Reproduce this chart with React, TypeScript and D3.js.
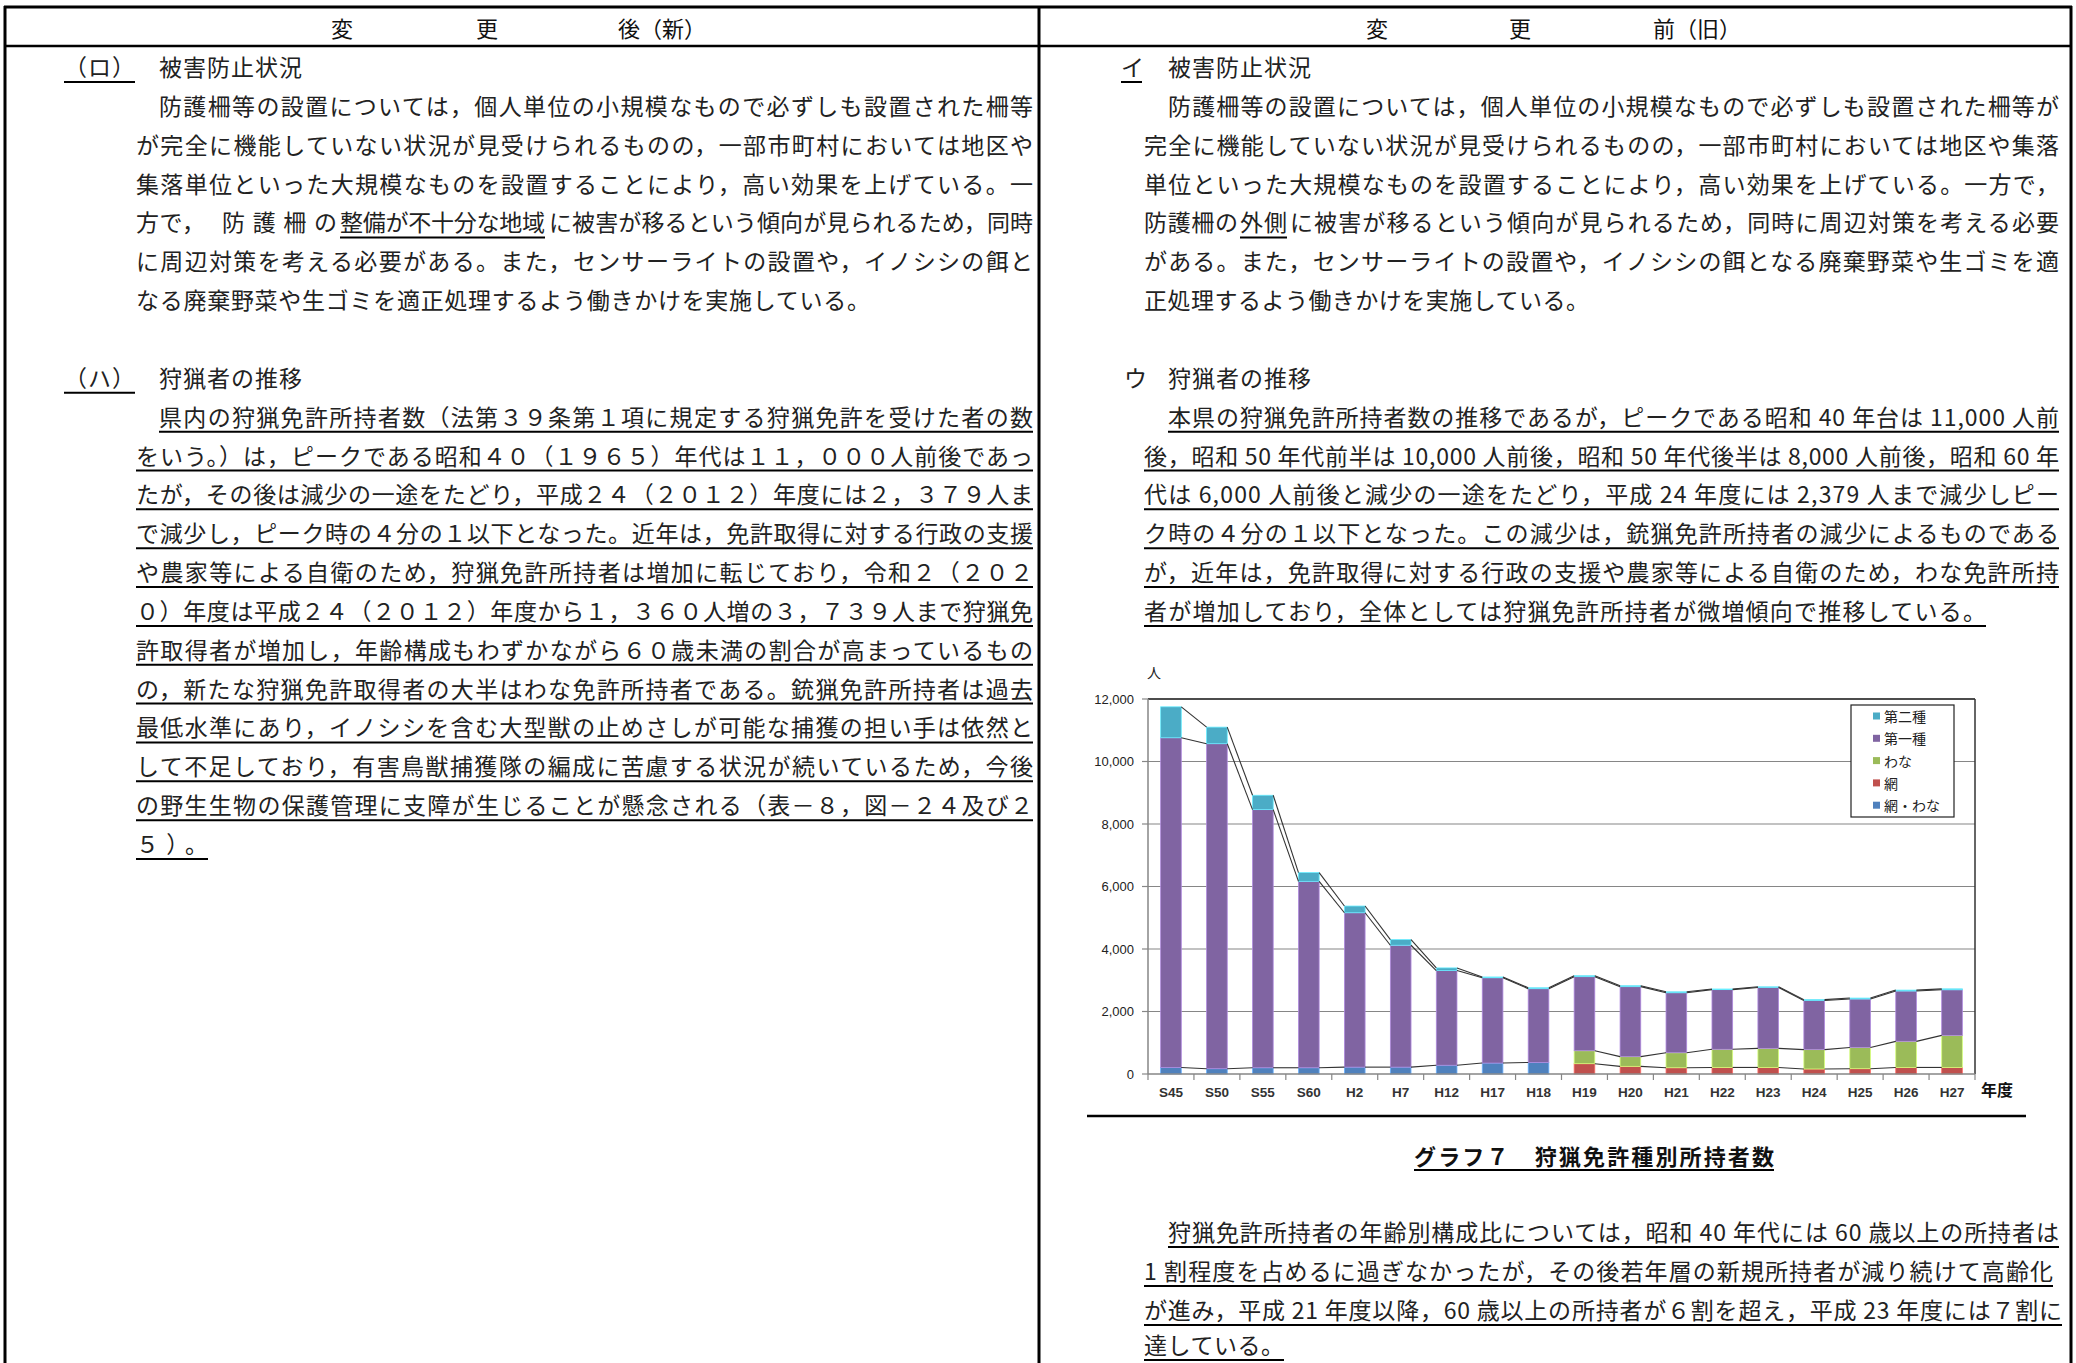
import React from 'react';
import * as d3 from 'd3';

// ---- chart data ----
const categories = ['S45', 'S50', 'S55', 'S60', 'H2', 'H7', 'H12', 'H17', 'H18', 'H19', 'H20', 'H21', 'H22', 'H23', 'H24', 'H25', 'H26', 'H27'];
const amiWana: (number | null)[] = [210, 170, 200, 200, 220, 220, 280, 350, 370, null, null, null, null, null, null, null, null, null];
const ami: (number | null)[] = [null, null, null, null, null, null, null, null, null, 330, 245, 200, 210, 210, 160, 170, 210, 210];
const wana: (number | null)[] = [null, null, null, null, null, null, null, null, null, 415, 310, 480, 580, 610, 620, 680, 835, 1025];
const daiichi: (number | null)[] = [10550, 10400, 8260, 5965, 4940, 3900, 3030, 2730, 2360, 2370, 2240, 1920, 1910, 1950, 1570, 1550, 1610, 1460];
const daini: (number | null)[] = [990, 530, 460, 280, 215, 180, 85, 25, 30, 30, 30, 30, 20, 20, 30, 30, 30, 30];
const yTicks = [0, 2000, 4000, 6000, 8000, 10000, 12000];

const seriesDefs = [
  { key: 'amiWana', name: '網・わな', color: '#4F81BD', values: amiWana },
  { key: 'ami', name: '網', color: '#C0504D', values: ami },
  { key: 'wana', name: 'わな', color: '#9BBB59', values: wana },
  { key: 'daiichi', name: '第一種', color: '#8064A2', values: daiichi },
  { key: 'daini', name: '第二種', color: '#4BACC6', values: daini },
];

// ---- page text ----
type Seg = { t: string; x0: number; x1: number; u?: boolean };
type Line = { y: number; segs: Seg[] };

const L0 = 136, L1 = 159, LR = 1033;
const R0 = 1144, R1 = 1168, RR = 2059;
const row = (i: number) => 66 + 38.85 * i;

const leftLines: Line[] = [
  { y: row(0), segs: [{ t: '（ロ）', x0: 64, x1: 135, u: true }, { t: '被害防止状況', x0: L1, x1: 302 }] },
  { y: row(1), segs: [{ t: '防護柵等の設置については，個人単位の小規模なもので必ずしも設置された柵等', x0: L1, x1: LR }] },
  { y: row(2), segs: [{ t: 'が完全に機能していない状況が見受けられるものの，一部市町村においては地区や', x0: L0, x1: LR }] },
  { y: row(3), segs: [{ t: '集落単位といった大規模なものを設置することにより，高い効果を上げている。一', x0: L0, x1: LR }] },
  { y: row(4), segs: [{ t: '方で，', x0: L0, x1: 205 }, { t: '防護柵の', x0: 222, x1: 337 }, { t: '整備が不十分な地域', x0: 340, x1: 545, u: true }, { t: 'に被害が移るという傾向が見られるため，同時', x0: 549, x1: LR }] },
  { y: row(5), segs: [{ t: 'に周辺対策を考える必要がある。また，センサーライトの設置や，イノシシの餌と', x0: L0, x1: LR }] },
  { y: row(6), segs: [{ t: 'なる廃棄野菜や生ゴミを適正処理するよう働きかけを実施している。', x0: L0, x1: 870 }] },
  { y: row(8), segs: [{ t: '（ハ）', x0: 64, x1: 135, u: true }, { t: '狩猟者の推移', x0: L1, x1: 302 }] },
  { y: row(9), segs: [{ t: '県内の狩猟免許所持者数（法第３９条第１項に規定する狩猟免許を受けた者の数', x0: L1, x1: LR, u: true }] },
  { y: row(10), segs: [{ t: 'をいう。）は，ピークである昭和４０（１９６５）年代は１１，０００人前後であっ', x0: L0, x1: LR, u: true }] },
  { y: row(11), segs: [{ t: 'たが，その後は減少の一途をたどり，平成２４（２０１２）年度には２，３７９人ま', x0: L0, x1: LR, u: true }] },
  { y: row(12), segs: [{ t: 'で減少し，ピーク時の４分の１以下となった。近年は，免許取得に対する行政の支援', x0: L0, x1: LR, u: true }] },
  { y: row(13), segs: [{ t: 'や農家等による自衛のため，狩猟免許所持者は増加に転じており，令和２（２０２', x0: L0, x1: LR, u: true }] },
  { y: row(14), segs: [{ t: '０）年度は平成２４（２０１２）年度から１，３６０人増の３，７３９人まで狩猟免', x0: L0, x1: LR, u: true }] },
  { y: row(15), segs: [{ t: '許取得者が増加し，年齢構成もわずかながら６０歳未満の割合が高まっているもの', x0: L0, x1: LR, u: true }] },
  { y: row(16), segs: [{ t: 'の，新たな狩猟免許取得者の大半はわな免許所持者である。銃猟免許所持者は過去', x0: L0, x1: LR, u: true }] },
  { y: row(17), segs: [{ t: '最低水準にあり，イノシシを含む大型獣の止めさしが可能な捕獲の担い手は依然と', x0: L0, x1: LR, u: true }] },
  { y: row(18), segs: [{ t: 'して不足しており，有害鳥獣捕獲隊の編成に苦慮する状況が続いているため，今後', x0: L0, x1: LR, u: true }] },
  { y: row(19), segs: [{ t: 'の野生生物の保護管理に支障が生じることが懸念される（表－８，図－２４及び２', x0: L0, x1: LR, u: true }] },
  { y: row(20), segs: [{ t: '５）。', x0: L0, x1: 208, u: true }] },
];

const rightLines: Line[] = [
  { y: row(0), segs: [{ t: 'イ', x0: 1121, x1: 1142, u: true }, { t: '被害防止状況', x0: R1, x1: 1311 }] },
  { y: row(1), segs: [{ t: '防護柵等の設置については，個人単位の小規模なもので必ずしも設置された柵等が', x0: R1, x1: RR }] },
  { y: row(2), segs: [{ t: '完全に機能していない状況が見受けられるものの，一部市町村においては地区や集落', x0: R0, x1: RR }] },
  { y: row(3), segs: [{ t: '単位といった大規模なものを設置することにより，高い効果を上げている。一方で，', x0: R0, x1: RR }] },
  { y: row(4), segs: [{ t: '防護柵の', x0: R0, x1: 1238 }, { t: '外側', x0: 1240, x1: 1287, u: true }, { t: 'に被害が移るという傾向が見られるため，同時に周辺対策を考える必要', x0: 1290, x1: RR }] },
  { y: row(5), segs: [{ t: 'がある。また，センサーライトの設置や，イノシシの餌となる廃棄野菜や生ゴミを適', x0: R0, x1: RR }] },
  { y: row(6), segs: [{ t: '正処理するよう働きかけを実施している。', x0: R0, x1: 1589 }] },
  { y: row(8), segs: [{ t: 'ウ', x0: 1124, x1: 1142 }, { t: '狩猟者の推移', x0: R1, x1: 1311 }] },
  { y: row(9), segs: [{ t: '本県の狩猟免許所持者数の推移であるが，ピークである昭和 40 年台は 11,000 人前', x0: R1, x1: RR, u: true }] },
  { y: row(10), segs: [{ t: '後，昭和 50 年代前半は 10,000 人前後，昭和 50 年代後半は 8,000 人前後，昭和 60 年', x0: R0, x1: RR, u: true }] },
  { y: row(11), segs: [{ t: '代は 6,000 人前後と減少の一途をたどり，平成 24 年度には 2,379 人まで減少しピー', x0: R0, x1: RR, u: true }] },
  { y: row(12), segs: [{ t: 'ク時の４分の１以下となった。この減少は，銃猟免許所持者の減少によるものである', x0: R0, x1: RR, u: true }] },
  { y: row(13), segs: [{ t: 'が，近年は，免許取得に対する行政の支援や農家等による自衛のため，わな免許所持', x0: R0, x1: RR, u: true }] },
  { y: row(14), segs: [{ t: '者が増加しており，全体としては狩猟免許所持者が微増傾向で推移している。', x0: R0, x1: 1986, u: true }] },
  { y: 1231, segs: [{ t: '狩猟免許所持者の年齢別構成比については，昭和 40 年代には 60 歳以上の所持者は', x0: R1, x1: RR, u: true }] },
  { y: 1270, segs: [{ t: '1 割程度を占めるに過ぎなかったが，その後若年層の新規所持者が減り続けて高齢化', x0: R0, x1: 2053, u: true }] },
  { y: 1309, segs: [{ t: 'が進み，平成 21 年度以降，60 歳以上の所持者が６割を超え，平成 23 年度には７割に', x0: R0, x1: 2062, u: true }] },
  { y: 1344, segs: [{ t: '達している。', x0: R0, x1: 1284, u: true }] },
];

const W = 2076;
const H = 1363;
const JP = "'Noto Sans CJK JP', sans-serif";
const LAT = "'Liberation Sans', Arial, sans-serif";

const TextLine: React.FC<{ line: Line }> = ({ line }) => (
  <g>
    {line.segs.map((s, i) => (
      <g key={i}>
        <text
          x={s.x0}
          y={line.y}
          dominantBaseline="central"
          fontFamily={JP}
          fontSize={23}
          fill="#222"
          textLength={s.x1 - s.x0}
          lengthAdjust="spacing"
        >
          {s.t}
        </text>
        {s.u && <line x1={s.x0} x2={s.x1} y1={line.y + 16} y2={line.y + 16} stroke="#000" strokeWidth={2} />}
      </g>
    ))}
  </g>
);

const Chart: React.FC = () => {
  const left = 1148, right = 1975, top = 699, bottom = 1074;
  const x = d3.scaleBand<string>().domain(categories).range([left, right]).paddingInner(0.55).paddingOuter(0.275);
  const y = d3.scaleLinear().domain([0, 12000]).range([bottom, top]);
  const bw = x.bandwidth();
  const step = x.step();

  const rows = categories.map((c, i) => {
    const r: Record<string, any> = { cat: c };
    seriesDefs.forEach((s) => { r[s.key] = s.values[i] ?? 0; });
    return r;
  });
  const stacked = d3.stack<Record<string, any>>().keys(seriesDefs.map((s) => s.key))(rows);

  return (
    <g>
      {/* gridlines */}
      {yTicks.filter((t) => t > 0 && t < 12000).map((t) => (
        <line key={t} x1={left} x2={right} y1={y(t)} y2={y(t)} stroke="#868686" strokeWidth={1.2} />
      ))}
      {/* plot border top/right */}
      <line x1={left} x2={right} y1={y(12000)} y2={y(12000)} stroke="#111" strokeWidth={1.5} />
      <line x1={right} x2={right} y1={top} y2={bottom} stroke="#333" strokeWidth={1.5} />

      {/* bars */}
      {stacked.map((layer, li) => (
        <g key={layer.key}>
          {layer.map((d, i) => {
            const v = d[1] - d[0];
            if (!(v > 0)) return null;
            const c = seriesDefs[li].color;
            return (
              <rect
                key={i}
                x={x(categories[i])!}
                y={y(d[1])}
                width={bw}
                height={y(d[0]) - y(d[1])}
                fill={c}
                stroke={d3.color(c)!.brighter(0.9).formatHex()}
                strokeWidth={0.8}
              />
            );
          })}
        </g>
      ))}

      {/* series lines */}
      {stacked.map((layer, li) => (
        <g key={'sl' + layer.key}>
          {layer.slice(0, -1).map((d, i) => {
            const vals = seriesDefs[li].values;
            if (vals[i] == null || vals[i + 1] == null) return null;
            return (
              <line
                key={i}
                x1={x(categories[i])! + bw}
                y1={y(d[1])}
                x2={x(categories[i + 1])!}
                y2={y(layer[i + 1][1])}
                stroke="#333"
                strokeWidth={1.1}
              />
            );
          })}
        </g>
      ))}

      {/* y axis */}
      <line x1={left} x2={left} y1={top} y2={bottom} stroke="#868686" strokeWidth={1.5} />
      {yTicks.map((t) => (
        <g key={t}>
          <line x1={left - 6} x2={left} y1={y(t)} y2={y(t)} stroke="#868686" strokeWidth={1.2} />
          <text x={1134} y={y(t)} textAnchor="end" dominantBaseline="central" fontFamily={LAT} fontSize={13} fill="#222">
            {d3.format(',')(t)}
          </text>
        </g>
      ))}
      <text x={1154} y={672} textAnchor="middle" dominantBaseline="central" fontFamily={JP} fontSize={14} fill="#222">人</text>

      {/* x axis */}
      <line x1={left} x2={right} y1={bottom} y2={bottom} stroke="#868686" strokeWidth={1.5} />
      {d3.range(categories.length + 1).map((k) => (
        <line key={k} x1={left + k * step} x2={left + k * step} y1={bottom} y2={bottom + 6} stroke="#868686" strokeWidth={1.2} />
      ))}
      {categories.map((c) => (
        <text key={c} x={x(c)! + bw / 2} y={1092} textAnchor="middle" dominantBaseline="central" fontFamily={LAT} fontSize={13.5} fontWeight={600} fill="#333">
          {c}
        </text>
      ))}
      <text x={1997} y={1089} textAnchor="middle" dominantBaseline="central" fontFamily={JP} fontSize={16} fontWeight={700} fill="#111">年度</text>

      {/* legend */}
      <rect x={1851} y={705} width={103} height={112} fill="#fff" stroke="#222" strokeWidth={1.2} />
      {seriesDefs.slice().reverse().map((s, k) => (
        <g key={s.key}>
          <rect x={1873} y={716 + k * 22.3 - 3.5} width={7} height={7} fill={s.color} />
          <text x={1884} y={716 + k * 22.3} dominantBaseline="central" fontFamily={JP} fontSize={14} fill="#222">{s.name}</text>
        </g>
      ))}

      {/* rule under chart */}
      <line x1={1087} x2={2026} y1={1116} y2={1116} stroke="#000" strokeWidth={2.5} />

      {/* caption */}
      <text x={1414} y={1155} dominantBaseline="central" fontFamily={JP} fontSize={22} fontWeight={700} fill="#111" textLength={360} lengthAdjust="spacing">
        グラフ７　狩猟免許種別所持者数
      </text>
      <line x1={1414} x2={1774} y1={1170} y2={1170} stroke="#000" strokeWidth={2} />
    </g>
  );
};

export default function App() {
  return (
    <svg
      width={W}
      height={H}
      viewBox={`0 0 ${W} ${H}`}
      style={{ position: 'absolute', left: 0, top: 0, display: 'block', background: '#fff' }}
    >
      <rect width={W} height={H} fill="#fff" />
      {/* table frame */}
      <line x1={4} x2={2072} y1={7} y2={7} stroke="#000" strokeWidth={3} />
      <line x1={4} x2={2072} y1={46} y2={46} stroke="#000" strokeWidth={2.5} />
      <line x1={5} x2={5} y1={6} y2={H} stroke="#000" strokeWidth={3} />
      <line x1={1039} x2={1039} y1={6} y2={H} stroke="#000" strokeWidth={3} />
      <line x1={2071} x2={2071} y1={6} y2={H} stroke="#000" strokeWidth={3} />

      {/* header */}
      {[
        { t: '変', x: 342 }, { t: '更', x: 487 }, { t: '後（新）', x: 662 },
        { t: '変', x: 1377 }, { t: '更', x: 1520 }, { t: '前（旧）', x: 1697 },
      ].map((h, i) => (
        <text key={i} x={h.x} y={27} textAnchor="middle" dominantBaseline="central" fontFamily={JP} fontSize={22} fill="#111">
          {h.t}
        </text>
      ))}

      {leftLines.map((l, i) => <TextLine key={'l' + i} line={l} />)}
      {rightLines.map((l, i) => <TextLine key={'r' + i} line={l} />)}

      <Chart />
    </svg>
  );
}
